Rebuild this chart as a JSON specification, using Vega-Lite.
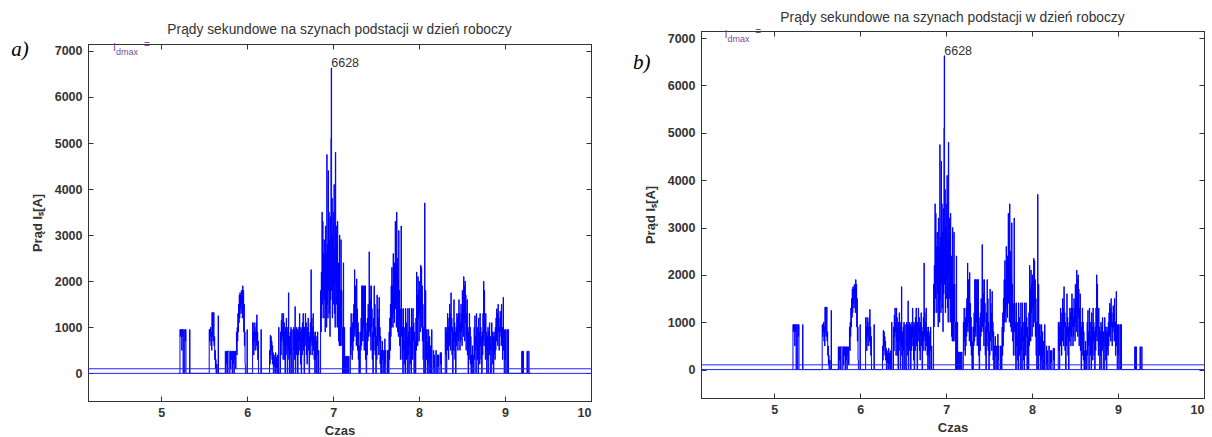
{
"$schema": "https://vega.github.io/schema/vega-lite/v6.json",
"background": "white",
"padding": {"left": 10, "top": 6, "right": 5, "bottom": 5},
"spacing": 40,
"config": {
  "view": {"stroke": "#333", "strokeWidth": 1},
  "axis": {"grid": false, "domainColor": "#333", "tickColor": "#333", "labelColor": "#333", "labelFont": "Liberation Sans", "labelFontSize": 12.5, "labelFontWeight": "bold", "titleFont": "Liberation Sans", "titleFontSize": 13, "titleFontWeight": "bold", "titleColor": "#333", "tickSize": -5, "domainWidth": 1, "tickWidth": 1},
  "title": {"font": "Liberation Sans", "fontSize": 13.8, "fontWeight": "normal", "color": "#333", "offset": 2, "anchor": "middle"}
},
"datasets": {"sig": [
{"t":5.2,"I":0},{"t":5.218,"I":950},{"t":5.222,"I":800},{"t":5.226,"I":950},{"t":5.23,"I":850},{"t":5.234,"I":950},{"t":5.238,"I":500},{"t":5.242,"I":950},{"t":5.246,"I":800},{"t":5.25,"I":950},{"t":5.254,"I":0},{"t":5.262,"I":950},{"t":5.266,"I":0},{"t":5.275,"I":950},{"t":5.28,"I":700},{"t":5.284,"I":950},{"t":5.288,"I":0},{"t":5.33,"I":950},{"t":5.334,"I":0},
{"t":5.558,"I":950},{"t":5.562,"I":700},{"t":5.566,"I":950},{"t":5.57,"I":800},{"t":5.574,"I":1000},{"t":5.578,"I":600},{"t":5.582,"I":900},{"t":5.586,"I":500},{"t":5.59,"I":1320},{"t":5.594,"I":800},{"t":5.598,"I":1320},{"t":5.602,"I":700},{"t":5.606,"I":1000},{"t":5.61,"I":1320},{"t":5.614,"I":600},{"t":5.618,"I":800},{"t":5.622,"I":300},{"t":5.626,"I":500},{"t":5.63,"I":100},{"t":5.634,"I":300},{"t":5.638,"I":0},{"t":5.645,"I":200},{"t":5.65,"I":0},{"t":5.662,"I":1250},{"t":5.666,"I":0},
{"t":5.745,"I":480},{"t":5.75,"I":0},{"t":5.755,"I":480},{"t":5.76,"I":200},{"t":5.765,"I":480},{"t":5.77,"I":0},{"t":5.775,"I":480},{"t":5.79,"I":0},{"t":5.8,"I":480},{"t":5.805,"I":100},{"t":5.81,"I":480},{"t":5.815,"I":300},{"t":5.82,"I":480},{"t":5.825,"I":0},{"t":5.83,"I":480},{"t":5.835,"I":200},{"t":5.84,"I":480},{"t":5.845,"I":0},{"t":5.85,"I":480},{"t":5.855,"I":300},{"t":5.86,"I":480},{"t":5.865,"I":100},{"t":5.87,"I":480},{"t":5.875,"I":900},{"t":5.879,"I":400},{"t":5.883,"I":1000},{"t":5.887,"I":700},{"t":5.891,"I":1300},{"t":5.895,"I":900},{"t":5.899,"I":1500},{"t":5.903,"I":1100},{"t":5.907,"I":1700},{"t":5.911,"I":1200},{"t":5.915,"I":1750},{"t":5.919,"I":1400},{"t":5.923,"I":1700},{"t":5.927,"I":1300},{"t":5.931,"I":1800},{"t":5.935,"I":1500},{"t":5.939,"I":1750},{"t":5.943,"I":1200},{"t":5.947,"I":1900},{"t":5.951,"I":1400},{"t":5.955,"I":1800},{"t":5.959,"I":900},{"t":5.963,"I":1500},{"t":5.967,"I":600},{"t":5.971,"I":900},{"t":5.975,"I":200},{"t":5.979,"I":0},{"t":5.998,"I":950},{"t":6.002,"I":0},
{"t":6.063,"I":1100},{"t":6.067,"I":600},{"t":6.071,"I":900},{"t":6.075,"I":400},{"t":6.079,"I":1100},{"t":6.083,"I":700},{"t":6.087,"I":1000},{"t":6.091,"I":500},{"t":6.095,"I":900},{"t":6.099,"I":800},{"t":6.103,"I":1100},{"t":6.107,"I":600},{"t":6.111,"I":1270},{"t":6.115,"I":500},{"t":6.119,"I":900},{"t":6.123,"I":300},{"t":6.127,"I":700},{"t":6.131,"I":0},{"t":6.16,"I":950},{"t":6.165,"I":0},
{"t":6.26,"I":500},{"t":6.264,"I":200},{"t":6.268,"I":830},{"t":6.272,"I":400},{"t":6.276,"I":800},{"t":6.28,"I":500},{"t":6.284,"I":700},{"t":6.288,"I":300},{"t":6.292,"I":600},{"t":6.296,"I":200},{"t":6.3,"I":450},{"t":6.304,"I":0},{"t":6.31,"I":400},{"t":6.314,"I":150},{"t":6.318,"I":350},{"t":6.322,"I":0},{"t":6.33,"I":450},{"t":6.334,"I":100},{"t":6.34,"I":350},{"t":6.344,"I":0},{"t":6.352,"I":400},{"t":6.356,"I":0},{"t":6.366,"I":1000},{"t":6.37,"I":0},
{"t":6.388,"I":900},{"t":6.392,"I":400},{"t":6.396,"I":1150},{"t":6.4,"I":700},{"t":6.404,"I":1300},{"t":6.408,"I":800},{"t":6.412,"I":1000},{"t":6.416,"I":300},{"t":6.42,"I":1300},{"t":6.424,"I":600},{"t":6.428,"I":1100},{"t":6.432,"I":300},{"t":6.436,"I":900},{"t":6.44,"I":0},{"t":6.446,"I":1000},{"t":6.45,"I":400},{"t":6.454,"I":1200},{"t":6.458,"I":600},{"t":6.462,"I":900},{"t":6.466,"I":0},{"t":6.472,"I":1000},{"t":6.476,"I":500},{"t":6.48,"I":1750},{"t":6.484,"I":300},{"t":6.488,"I":800},{"t":6.492,"I":0},{"t":6.5,"I":900},{"t":6.504,"I":400},{"t":6.508,"I":1000},{"t":6.512,"I":0},{"t":6.52,"I":950},{"t":6.524,"I":0},
{"t":6.54,"I":1000},{"t":6.544,"I":500},{"t":6.548,"I":950},{"t":6.552,"I":300},{"t":6.556,"I":1450},{"t":6.56,"I":0},{"t":6.566,"I":900},{"t":6.57,"I":400},{"t":6.574,"I":1000},{"t":6.578,"I":600},{"t":6.582,"I":950},{"t":6.586,"I":0},{"t":6.592,"I":900},{"t":6.596,"I":400},{"t":6.6,"I":1000},{"t":6.604,"I":700},{"t":6.608,"I":1300},{"t":6.612,"I":500},{"t":6.616,"I":900},{"t":6.62,"I":200},{"t":6.624,"I":1000},{"t":6.628,"I":0},{"t":6.634,"I":950},{"t":6.638,"I":400},{"t":6.642,"I":1100},{"t":6.646,"I":700},{"t":6.65,"I":1300},{"t":6.654,"I":500},{"t":6.658,"I":1000},{"t":6.662,"I":0},{"t":6.668,"I":1000},{"t":6.672,"I":600},{"t":6.676,"I":1300},{"t":6.68,"I":800},{"t":6.684,"I":1100},{"t":6.688,"I":400},{"t":6.692,"I":900},{"t":6.696,"I":200},{"t":6.7,"I":1000},{"t":6.704,"I":700},{"t":6.708,"I":1200},{"t":6.712,"I":500},{"t":6.716,"I":900},{"t":6.72,"I":0},{"t":6.726,"I":800},{"t":6.73,"I":400},{"t":6.734,"I":1100},{"t":6.738,"I":600},{"t":6.742,"I":2250},{"t":6.746,"I":700},{"t":6.75,"I":1200},{"t":6.754,"I":400},{"t":6.758,"I":1000},{"t":6.762,"I":600},{"t":6.766,"I":1300},{"t":6.77,"I":500},{"t":6.774,"I":900},{"t":6.778,"I":300},{"t":6.782,"I":800},{"t":6.786,"I":0},{"t":6.792,"I":900},{"t":6.796,"I":300},{"t":6.8,"I":700},{"t":6.804,"I":0},{"t":6.81,"I":800},{"t":6.814,"I":400},{"t":6.818,"I":900},{"t":6.822,"I":0},{"t":6.83,"I":500},{"t":6.834,"I":0},
{"t":6.854,"I":1800},{"t":6.858,"I":900},{"t":6.862,"I":2200},{"t":6.866,"I":1200},{"t":6.87,"I":3500},{"t":6.874,"I":1500},{"t":6.878,"I":3300},{"t":6.882,"I":1800},{"t":6.886,"I":2600},{"t":6.89,"I":1200},{"t":6.894,"I":2900},{"t":6.898,"I":1600},{"t":6.902,"I":2500},{"t":6.906,"I":900},{"t":6.91,"I":3200},{"t":6.914,"I":1400},{"t":6.918,"I":2600},{"t":6.922,"I":1000},{"t":6.926,"I":4750},{"t":6.93,"I":1500},{"t":6.934,"I":2800},{"t":6.938,"I":1200},{"t":6.942,"I":4400},{"t":6.946,"I":1800},{"t":6.95,"I":3500},{"t":6.954,"I":1300},{"t":6.958,"I":2900},{"t":6.962,"I":800},{"t":6.966,"I":3400},{"t":6.97,"I":1600},{"t":6.974,"I":5100},{"t":6.978,"I":6628},{"t":6.982,"I":1800},{"t":6.986,"I":3800},{"t":6.99,"I":1200},{"t":6.994,"I":3000},{"t":6.998,"I":1900},{"t":7.002,"I":3500},{"t":7.006,"I":1500},{"t":7.01,"I":4100},{"t":7.014,"I":1300},{"t":7.018,"I":2700},{"t":7.022,"I":1000},{"t":7.026,"I":4800},{"t":7.03,"I":2000},{"t":7.034,"I":3200},{"t":7.038,"I":1500},{"t":7.042,"I":2800},{"t":7.046,"I":1000},{"t":7.05,"I":3300},{"t":7.054,"I":1200},{"t":7.058,"I":2400},{"t":7.062,"I":700},{"t":7.066,"I":2000},{"t":7.07,"I":600},{"t":7.074,"I":3000},{"t":7.078,"I":1000},{"t":7.082,"I":1800},{"t":7.086,"I":600},
{"t":7.09,"I":2900},{"t":7.094,"I":1000},{"t":7.098,"I":1800},{"t":7.102,"I":600},{"t":7.106,"I":1000},{"t":7.11,"I":0},{"t":7.118,"I":2400},{"t":7.122,"I":0},{"t":7.13,"I":1000},{"t":7.134,"I":0},{"t":7.14,"I":370},{"t":7.146,"I":0},{"t":7.152,"I":370},{"t":7.158,"I":0},{"t":7.165,"I":370},{"t":7.17,"I":0},{"t":7.18,"I":370},{"t":7.185,"I":0},
{"t":7.2,"I":1000},{"t":7.204,"I":400},{"t":7.208,"I":1300},{"t":7.212,"I":600},{"t":7.216,"I":1000},{"t":7.22,"I":300},{"t":7.224,"I":1100},{"t":7.228,"I":500},{"t":7.232,"I":1300},{"t":7.236,"I":700},{"t":7.24,"I":1500},{"t":7.244,"I":900},{"t":7.248,"I":2250},{"t":7.252,"I":800},{"t":7.256,"I":1900},{"t":7.26,"I":1000},{"t":7.264,"I":1500},{"t":7.268,"I":600},{"t":7.272,"I":2050},{"t":7.276,"I":900},{"t":7.28,"I":1400},{"t":7.284,"I":500},{"t":7.288,"I":1100},{"t":7.292,"I":300},{"t":7.296,"I":900},{"t":7.3,"I":0},{"t":7.306,"I":600},{"t":7.31,"I":0},{"t":7.316,"I":900},{"t":7.32,"I":500},{"t":7.324,"I":1200},{"t":7.328,"I":600},{"t":7.332,"I":1900},{"t":7.336,"I":800},{"t":7.34,"I":1900},{"t":7.344,"I":700},{"t":7.348,"I":1900},{"t":7.352,"I":1000},{"t":7.356,"I":1500},{"t":7.36,"I":500},{"t":7.364,"I":1900},{"t":7.368,"I":900},{"t":7.372,"I":1900},{"t":7.376,"I":300},{"t":7.38,"I":1100},{"t":7.384,"I":0},{"t":7.39,"I":900},{"t":7.394,"I":400},{"t":7.398,"I":1200},{"t":7.402,"I":700},{"t":7.406,"I":1500},{"t":7.41,"I":800},{"t":7.414,"I":1000},{"t":7.418,"I":2640},{"t":7.422,"I":900},
{"t":7.426,"I":1900},{"t":7.43,"I":800},{"t":7.434,"I":1600},{"t":7.438,"I":500},{"t":7.442,"I":1900},{"t":7.446,"I":1000},{"t":7.45,"I":1400},{"t":7.454,"I":300},{"t":7.458,"I":900},{"t":7.462,"I":0},{"t":7.468,"I":1200},{"t":7.472,"I":500},{"t":7.476,"I":1900},{"t":7.48,"I":800},{"t":7.484,"I":1500},{"t":7.488,"I":400},{"t":7.492,"I":1000},{"t":7.496,"I":0},{"t":7.502,"I":800},{"t":7.506,"I":300},{"t":7.51,"I":1700},{"t":7.514,"I":600},{"t":7.518,"I":1400},{"t":7.522,"I":800},{"t":7.526,"I":1200},{"t":7.53,"I":400},{"t":7.534,"I":1650},{"t":7.538,"I":700},{"t":7.542,"I":1000},{"t":7.546,"I":200},{"t":7.55,"I":800},{"t":7.554,"I":0},{"t":7.56,"I":500},{"t":7.564,"I":0},{"t":7.57,"I":700},{"t":7.574,"I":300},{"t":7.578,"I":500},{"t":7.582,"I":0},{"t":7.59,"I":500},{"t":7.594,"I":0},{"t":7.6,"I":750},{"t":7.604,"I":200},{"t":7.608,"I":500},{"t":7.612,"I":0},
{"t":7.63,"I":500},{"t":7.634,"I":0},{"t":7.64,"I":500},{"t":7.644,"I":0},{"t":7.65,"I":900},{"t":7.654,"I":300},{"t":7.658,"I":1200},{"t":7.662,"I":500},{"t":7.666,"I":1500},{"t":7.67,"I":800},{"t":7.674,"I":1900},{"t":7.678,"I":1000},{"t":7.682,"I":2300},{"t":7.686,"I":1200},{"t":7.69,"I":1900},{"t":7.694,"I":1000},{"t":7.698,"I":2600},{"t":7.702,"I":1300},{"t":7.706,"I":2000},{"t":7.71,"I":1100},{"t":7.714,"I":2400},{"t":7.718,"I":1500},{"t":7.722,"I":3300},{"t":7.726,"I":1400},{"t":7.73,"I":2200},{"t":7.734,"I":1000},{"t":7.738,"I":3500},{"t":7.742,"I":1600},{"t":7.746,"I":2500},{"t":7.75,"I":900},{"t":7.754,"I":2000},{"t":7.758,"I":800},{"t":7.762,"I":3100},{"t":7.766,"I":1200},{"t":7.77,"I":1800},{"t":7.774,"I":600},{"t":7.778,"I":1400},{"t":7.782,"I":300},{"t":7.786,"I":1000},
{"t":7.79,"I":3200},{"t":7.794,"I":800},{"t":7.798,"I":1400},{"t":7.802,"I":300},{"t":7.806,"I":1000},{"t":7.81,"I":0},{"t":7.816,"I":1410},{"t":7.82,"I":500},{"t":7.824,"I":1000},{"t":7.828,"I":200},{"t":7.832,"I":700},{"t":7.836,"I":0},{"t":7.842,"I":1410},{"t":7.846,"I":600},{"t":7.85,"I":1100},{"t":7.854,"I":300},{"t":7.858,"I":800},{"t":7.862,"I":0},{"t":7.868,"I":1410},{"t":7.872,"I":400},{"t":7.876,"I":900},{"t":7.88,"I":0},{"t":7.886,"I":1410},{"t":7.89,"I":600},{"t":7.894,"I":1000},{"t":7.898,"I":200},{"t":7.902,"I":700},{"t":7.906,"I":0},{"t":7.912,"I":1410},{"t":7.916,"I":500},{"t":7.92,"I":1000},{"t":7.924,"I":300},{"t":7.928,"I":1410},{"t":7.932,"I":700},{"t":7.936,"I":1100},{"t":7.94,"I":0},{"t":7.946,"I":900},{"t":7.95,"I":400},{"t":7.954,"I":700},{"t":7.958,"I":0},
{"t":7.962,"I":1200},{"t":7.966,"I":500},{"t":7.97,"I":2200},{"t":7.974,"I":1000},{"t":7.978,"I":1700},{"t":7.982,"I":600},{"t":7.986,"I":2100},{"t":7.99,"I":1200},{"t":7.994,"I":1800},{"t":7.998,"I":700},{"t":8.002,"I":2000},{"t":8.006,"I":1300},{"t":8.01,"I":1600},{"t":8.014,"I":900},{"t":8.018,"I":2350},{"t":8.022,"I":1400},{"t":8.026,"I":2300},{"t":8.03,"I":1000},{"t":8.034,"I":1900},{"t":8.038,"I":700},{"t":8.042,"I":1500},{"t":8.046,"I":300},{"t":8.05,"I":1000},{"t":8.054,"I":0},{"t":8.06,"I":900},{"t":8.064,"I":3700},{"t":8.068,"I":0},{"t":8.074,"I":1800},{"t":8.078,"I":500},
{"t":8.082,"I":950},{"t":8.086,"I":300},{"t":8.09,"I":950},{"t":8.094,"I":0},{"t":8.1,"I":700},{"t":8.104,"I":200},{"t":8.108,"I":950},{"t":8.112,"I":0},{"t":8.12,"I":800},{"t":8.124,"I":300},{"t":8.128,"I":600},{"t":8.132,"I":0},{"t":8.145,"I":950},{"t":8.15,"I":0},{"t":8.165,"I":500},{"t":8.17,"I":100},{"t":8.175,"I":400},{"t":8.18,"I":0},{"t":8.195,"I":500},{"t":8.2,"I":0},{"t":8.215,"I":400},{"t":8.22,"I":150},{"t":8.225,"I":400},{"t":8.23,"I":0},{"t":8.245,"I":450},{"t":8.25,"I":200},{"t":8.255,"I":450},{"t":8.26,"I":0},
{"t":8.304,"I":1000},{"t":8.308,"I":400},{"t":8.312,"I":900},{"t":8.316,"I":0},{"t":8.322,"I":1000},{"t":8.326,"I":500},{"t":8.33,"I":1300},{"t":8.334,"I":700},{"t":8.338,"I":1000},{"t":8.342,"I":300},{"t":8.346,"I":1200},{"t":8.35,"I":600},{"t":8.354,"I":1500},{"t":8.358,"I":800},{"t":8.362,"I":1300},{"t":8.366,"I":500},{"t":8.37,"I":1750},{"t":8.374,"I":900},{"t":8.378,"I":1200},{"t":8.382,"I":400},{"t":8.386,"I":1000},{"t":8.39,"I":0},{"t":8.396,"I":900},{"t":8.4,"I":500},{"t":8.404,"I":1600},{"t":8.408,"I":700},{"t":8.412,"I":1100},{"t":8.416,"I":300},{"t":8.42,"I":900},{"t":8.424,"I":0},{"t":8.43,"I":1000},{"t":8.434,"I":600},{"t":8.438,"I":1300},{"t":8.442,"I":800},{"t":8.446,"I":1200},{"t":8.45,"I":500},{"t":8.454,"I":1300},{"t":8.458,"I":700},{"t":8.462,"I":1600},{"t":8.466,"I":900},{"t":8.47,"I":1300},{"t":8.474,"I":500},{"t":8.478,"I":1100},{"t":8.482,"I":700},{"t":8.486,"I":1500},{"t":8.49,"I":900},{"t":8.494,"I":1300},{"t":8.498,"I":600},{"t":8.502,"I":1800},{"t":8.506,"I":1000},{"t":8.51,"I":1400},{"t":8.514,"I":800},{"t":8.518,"I":2100},{"t":8.522,"I":1200},{"t":8.526,"I":1900},{"t":8.53,"I":700},{"t":8.534,"I":2000},{"t":8.538,"I":1100},{"t":8.542,"I":1700},{"t":8.546,"I":500},{"t":8.55,"I":1300},{"t":8.554,"I":800},{"t":8.558,"I":1600},{"t":8.562,"I":400},{"t":8.566,"I":1000},{"t":8.57,"I":0},{"t":8.576,"I":900},{"t":8.58,"I":300},{"t":8.584,"I":1300},{"t":8.588,"I":600},{"t":8.592,"I":1000},{"t":8.596,"I":200},{"t":8.6,"I":800},{"t":8.604,"I":0},
{"t":8.61,"I":400},{"t":8.614,"I":0},{"t":8.62,"I":600},{"t":8.624,"I":200},{"t":8.628,"I":400},{"t":8.632,"I":0},{"t":8.64,"I":1000},{"t":8.644,"I":300},{"t":8.648,"I":1250},{"t":8.652,"I":500},{"t":8.656,"I":800},{"t":8.66,"I":0},{"t":8.666,"I":1300},{"t":8.67,"I":600},{"t":8.674,"I":1000},{"t":8.678,"I":300},{"t":8.682,"I":700},{"t":8.686,"I":0},{"t":8.692,"I":1200},{"t":8.696,"I":500},{"t":8.7,"I":900},{"t":8.704,"I":200},{"t":8.708,"I":1300},{"t":8.712,"I":600},{"t":8.716,"I":1000},{"t":8.72,"I":300},{"t":8.724,"I":800},{"t":8.728,"I":0},{"t":8.734,"I":900},{"t":8.738,"I":400},{"t":8.742,"I":1300},{"t":8.746,"I":700},{"t":8.75,"I":2000},{"t":8.754,"I":600},{"t":8.758,"I":1800},{"t":8.762,"I":900},{"t":8.766,"I":1100},{"t":8.77,"I":300},{"t":8.774,"I":1300},{"t":8.778,"I":500},{"t":8.782,"I":900},{"t":8.786,"I":0},{"t":8.792,"I":800},{"t":8.796,"I":300},{"t":8.8,"I":1000},{"t":8.804,"I":0},{"t":8.81,"I":900},{"t":8.814,"I":400},{"t":8.818,"I":1100},{"t":8.822,"I":500},{"t":8.826,"I":800},{"t":8.83,"I":0},
{"t":8.844,"I":1100},{"t":8.848,"I":500},{"t":8.852,"I":900},{"t":8.856,"I":200},{"t":8.86,"I":800},{"t":8.864,"I":0},{"t":8.87,"I":900},{"t":8.874,"I":400},{"t":8.878,"I":800},{"t":8.882,"I":300},{"t":8.886,"I":1000},{"t":8.89,"I":500},{"t":8.894,"I":1200},{"t":8.898,"I":700},{"t":8.902,"I":1400},{"t":8.906,"I":800},{"t":8.91,"I":1300},{"t":8.914,"I":600},{"t":8.918,"I":1500},{"t":8.922,"I":900},{"t":8.926,"I":1200},{"t":8.93,"I":500},{"t":8.934,"I":1000},{"t":8.938,"I":800},{"t":8.942,"I":1350},{"t":8.946,"I":900},{"t":8.95,"I":1200},{"t":8.954,"I":600},{"t":8.958,"I":1500},{"t":8.962,"I":700},{"t":8.966,"I":1000},{"t":8.97,"I":300},{"t":8.974,"I":800},{"t":8.978,"I":1650},{"t":8.982,"I":500},{"t":8.986,"I":900},{"t":8.99,"I":0},{"t":8.996,"I":950},{"t":9.0,"I":300},{"t":9.004,"I":950},{"t":9.008,"I":0},{"t":9.02,"I":950},{"t":9.03,"I":0},{"t":9.035,"I":950},{"t":9.04,"I":0},
{"t":9.193,"I":480},{"t":9.2,"I":480},{"t":9.203,"I":0},{"t":9.207,"I":480},{"t":9.214,"I":0},{"t":9.255,"I":480},{"t":9.262,"I":0},{"t":9.27,"I":480},{"t":9.28,"I":0},{"t":9.3,"I":0}
]},
"hconcat": [
{
 "spacing": 0,
 "vconcat": [
  {"width": 503, "height": 16, "data": {"values": [{}]}, "mark": {"type": "point", "size": 0, "opacity": 0}, "view": {"stroke": null}},
  {
   "width": 503, "height": 357,
   "data": {"values": [{}]},
   "title": {"text": "Prądy sekundowe na szynach podstacji w dzień roboczy"},
   "layer": [
    {"data": {"name": "sig"}, "mark": {"type": "line", "interpolate": "step-after", "color": "#0000ff", "strokeWidth": 1, "clip": true},
     "encoding": {
      "x": {"field": "t", "type": "quantitative", "scale": {"domain": [4.148, 10], "nice": false, "zero": false}, "axis": {"orient": "bottom", "values": [5,6,7,8,9,10], "format": "d", "title": "Czas", "labelPadding": 10.5, "titlePadding": 5}},
      "y": {"field": "I", "type": "quantitative", "scale": {"domain": [-600, 7150], "nice": false, "zero": false}, "axis": {"orient": "left", "values": [0,1000,2000,3000,4000,5000,6000,7000], "format": "d", "title": "Prąd Iₛ[A]", "labelPadding": 11, "titlePadding": 10}}
     }},
    {"mark": {"type": "rule", "color": "#2222ff", "strokeWidth": 1}, "encoding": {"y": {"datum": 0, "type": "quantitative", "axis": null}}},
    {"mark": {"type": "rule", "color": "#2222ff", "strokeWidth": 1}, "encoding": {"y": {"datum": 100, "type": "quantitative", "axis": null}}},
    {"mark": {"type": "point", "opacity": 0}, "encoding": {
      "x": {"datum": 5, "type": "quantitative", "axis": {"orient": "top", "values": [5,6,7,8,9,10], "labels": false, "title": null}},
      "y": {"datum": 0, "type": "quantitative", "axis": {"orient": "right", "values": [0,1000,2000,3000,4000,5000,6000,7000], "labels": false, "title": null}}}},
    {"mark": {"type": "text", "text": "I", "align": "left", "baseline": "alphabetic", "fontSize": 11, "font": "Liberation Sans", "color": "#7b4f9d"}, "encoding": {"x": {"datum": 4.44, "type": "quantitative", "axis": null}, "y": {"datum": 7000, "type": "quantitative", "axis": null}}},
    {"mark": {"type": "text", "text": "dmax", "align": "left", "baseline": "alphabetic", "fontSize": 9, "font": "Liberation Sans", "color": "#7b4f9d"}, "encoding": {"x": {"datum": 4.475, "type": "quantitative", "axis": null}, "y": {"datum": 6913, "type": "quantitative", "axis": null}}},
    {"mark": {"type": "text", "text": "=", "align": "left", "baseline": "alphabetic", "fontSize": 10, "font": "Liberation Sans", "color": "#7b4f9d"}, "encoding": {"x": {"datum": 4.8, "type": "quantitative", "axis": null}, "y": {"datum": 7060, "type": "quantitative", "axis": null}}},
    {"mark": {"type": "text", "text": "6628", "align": "left", "baseline": "alphabetic", "fontSize": 12.5, "font": "Liberation Sans", "color": "#333"}, "encoding": {"x": {"datum": 6.978, "type": "quantitative", "axis": null}, "y": {"datum": 6650, "type": "quantitative", "axis": null}}},
    {"mark": {"type": "text", "text": "a)", "align": "left", "baseline": "middle", "fontSize": 21, "font": "Liberation Serif", "fontStyle": "italic", "color": "#000"}, "encoding": {"x": {"datum": 3.254, "type": "quantitative", "axis": null}, "y": {"datum": 7030, "type": "quantitative", "axis": null}}}
   ],
   "resolve": {"axis": {"x": "independent", "y": "independent"}}
  }
 ]
},
{
 "spacing": 0,
 "vconcat": [
  {"width": 503, "height": 4, "data": {"values": [{}]}, "mark": {"type": "point", "size": 0, "opacity": 0}, "view": {"stroke": null}},
  {
   "width": 503, "height": 367,
   "data": {"values": [{}]},
   "title": {"text": "Prądy sekundowe na szynach podstacji w dzień roboczy"},
   "layer": [
    {"data": {"name": "sig"}, "mark": {"type": "line", "interpolate": "step-after", "color": "#0000ff", "strokeWidth": 1, "clip": true},
     "encoding": {
      "x": {"field": "t", "type": "quantitative", "scale": {"domain": [4.148, 10], "nice": false, "zero": false}, "axis": {"orient": "bottom", "values": [5,6,7,8,9,10], "format": "d", "title": "Czas", "labelPadding": 10.5, "titlePadding": 5}},
      "y": {"field": "I", "type": "quantitative", "scale": {"domain": [-600, 7150], "nice": false, "zero": false}, "axis": {"orient": "left", "values": [0,1000,2000,3000,4000,5000,6000,7000], "format": "d", "title": "Prąd Iₛ[A]", "labelPadding": 11, "titlePadding": 10}}
     }},
    {"mark": {"type": "rule", "color": "#2222ff", "strokeWidth": 1}, "encoding": {"y": {"datum": 0, "type": "quantitative", "axis": null}}},
    {"mark": {"type": "rule", "color": "#2222ff", "strokeWidth": 1}, "encoding": {"y": {"datum": 100, "type": "quantitative", "axis": null}}},
    {"mark": {"type": "point", "opacity": 0}, "encoding": {
      "x": {"datum": 5, "type": "quantitative", "axis": {"orient": "top", "values": [5,6,7,8,9,10], "labels": false, "title": null}},
      "y": {"datum": 0, "type": "quantitative", "axis": {"orient": "right", "values": [0,1000,2000,3000,4000,5000,6000,7000], "labels": false, "title": null}}}},
    {"mark": {"type": "text", "text": "I", "align": "left", "baseline": "alphabetic", "fontSize": 11, "font": "Liberation Sans", "color": "#7b4f9d"}, "encoding": {"x": {"datum": 4.42, "type": "quantitative", "axis": null}, "y": {"datum": 7000, "type": "quantitative", "axis": null}}},
    {"mark": {"type": "text", "text": "dmax", "align": "left", "baseline": "alphabetic", "fontSize": 9, "font": "Liberation Sans", "color": "#7b4f9d"}, "encoding": {"x": {"datum": 4.455, "type": "quantitative", "axis": null}, "y": {"datum": 6913, "type": "quantitative", "axis": null}}},
    {"mark": {"type": "text", "text": "=", "align": "left", "baseline": "alphabetic", "fontSize": 10, "font": "Liberation Sans", "color": "#7b4f9d"}, "encoding": {"x": {"datum": 4.78, "type": "quantitative", "axis": null}, "y": {"datum": 7060, "type": "quantitative", "axis": null}}},
    {"mark": {"type": "text", "text": "6628", "align": "left", "baseline": "alphabetic", "fontSize": 12.5, "font": "Liberation Sans", "color": "#333"}, "encoding": {"x": {"datum": 6.978, "type": "quantitative", "axis": null}, "y": {"datum": 6650, "type": "quantitative", "axis": null}}},
    {"mark": {"type": "text", "text": "b)", "align": "left", "baseline": "middle", "fontSize": 21, "font": "Liberation Serif", "fontStyle": "italic", "color": "#000"}, "encoding": {"x": {"datum": 3.358, "type": "quantitative", "axis": null}, "y": {"datum": 6468, "type": "quantitative", "axis": null}}}
   ],
   "resolve": {"axis": {"x": "independent", "y": "independent"}}
  }
 ]
}
]
}
